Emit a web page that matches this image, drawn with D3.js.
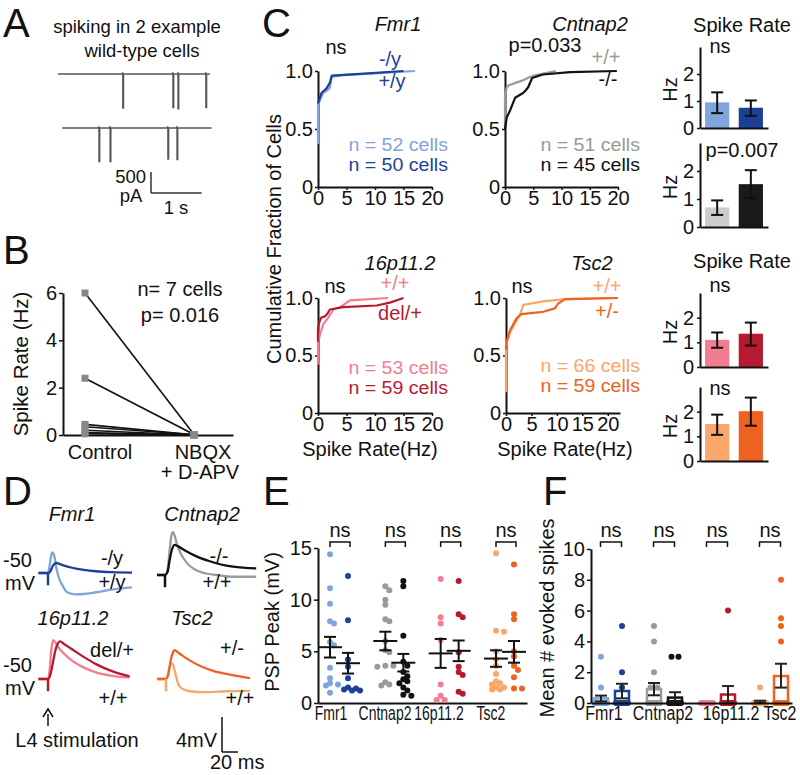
<!DOCTYPE html>
<html><head><meta charset="utf-8">
<script src="https://cdn.jsdelivr.net/npm/d3@7"></script>
<style>body{margin:0;background:#fff}</style>
</head><body>
<svg id="c" width="800" height="775"></svg>
<script>
// ---------------- DATA ----------------
// Panel A: spontaneous spiking traces (time in s, amplitude in pA)
const aTraceSpan = [[0, 3.0], [0.08, 3.03]];
const aSpikeTimes = [[1.28, 2.27, 2.37, 2.92], [0.81, 1.03, 2.17, 2.35]];
const aSpikeAmps = [[810, 800, 830, 800], [800, 800, 740, 750]];
// Panel B
const bConditions = ["Control", "NBQX"];
const bControl = [6.0, 2.4, 0.45, 0.35, 0.2, 0.1, 0.05];
const bDrug = [0.02, 0.02, 0.01, 0.01, 0.0, 0.0, 0.0];
const bTicks = [0, 2, 4, 6];
// Panel C: cumulative distributions [rate Hz, fraction]
const cdfFmr1WT = [[0,0.37],[0,0.71],[0.35,0.75],[0.9,0.81],[1.8,0.84],[2.1,0.86],[2.4,0.95],[4.4,0.965],[10,0.98],[17,1.0]];
const cdfFmr1KO = [[0,0.72],[0.6,0.81],[1.5,0.85],[2.1,0.9],[2.4,0.96],[7.4,0.975],[15,1.0]];
const cdfCntWT = [[0,0.55],[0,0.78],[0.3,0.86],[0.8,0.88],[2,0.9],[3.2,0.92],[4.5,0.95],[5.5,0.965],[9,1.0]];
const cdfCntKO = [[0,0.5],[0.3,0.6],[0.9,0.66],[1.8,0.77],[3.2,0.81],[3.6,0.83],[4.1,0.86],[4.8,0.94],[6.7,0.97],[11.5,0.99],[19.8,1.0]];
const cdf16WT = [[0,0.42],[0,0.62],[0.35,0.68],[0.9,0.77],[1.8,0.83],[2.7,0.9],[3.9,0.92],[5.6,0.98],[12.3,1.0]];
const cdf16KO = [[0,0.62],[0,0.74],[0.3,0.8],[0.6,0.83],[1.2,0.84],[1.6,0.86],[2.1,0.9],[4.4,0.92],[10.3,0.935],[12.6,0.96],[15,1.0]];
const cdfTscWT = [[0,0.18],[0,0.59],[0.8,0.7],[1.8,0.78],[2.7,0.85],[3.4,0.94],[7.3,0.97],[11.6,0.99],[22,1.0]];
const cdfTscKO = [[0,0.55],[0.1,0.62],[0.8,0.72],[2,0.82],[3,0.86],[7.3,0.88],[9.6,0.91],[10.2,0.95],[11.6,0.99],[22,1.0]];
const cdfXTicks = [0, 5, 10, 15, 20];
const cdfYTicks = [0, 0.5, 1];
const cdfYLabels = ["0", "0.5", "1.0"];
const cdfN = [[52, 50], [51, 45], [53, 59], [66, 59]];
// Spike-rate bars: mean, sem low, sem high  [WT, mutant]
const rateFmr1 = [0.95, 0.75], rateFmr1Lo = [0.55, 0.45], rateFmr1Hi = [1.32, 1.02];
const rateCnt = [0.7, 1.53], rateCntLo = [0.43, 1.03], rateCntHi = [0.95, 2.03];
const rate16 = [1.1, 1.35], rate16Lo = [0.78, 0.87], rate16Hi = [1.4, 1.8];
const rateTsc = [1.5, 2.02], rateTscLo = [1.06, 1.43], rateTscHi = [1.88, 2.57];
const barTicks = [0, 1, 2];
// Panel D: PSP traces [ms from stimulus, mV relative to -50 mV]
const dFmr1WT = [[-12,0],[0,0],[2,0.8],[4,2.0],[5.5,2.35],[8,1.9],[10,0.8],[13,-0.4],[18,-1.4],[24,-2.2],[35,-2.45],[45,-2.4],[60,-2.2],[80,-1.9],[105,-1.65]];
const dFmr1KO = [[-12,0],[0,0],[3,0.2],[6,0.8],[9,1.1],[11,1.15],[14,1.05],[20,0.85],[30,0.6],[45,0.35],[60,0.2],[80,0.1],[105,0.05]];
const dCntWT = [[-10,0],[0,0],[3,0.5],[6,3.0],[8,4.5],[10,4.9],[12,4.5],[15,3.5],[20,2.4],[28,1.3],[38,0.6],[50,0.2],[65,0],[85,-0.2],[114,-0.2]];
const dCntKO = [[-10,0],[0,0],[3,0.3],[6,1.8],[9,3.0],[12,3.45],[16,3.3],[25,2.8],[40,2.1],[55,1.6],[70,1.2],[85,0.95],[114,0.75]];
const d16WT = [[-12,0],[0,0],[2,1.0],[4,3.2],[6.5,4.45],[9,4.2],[13,3.6],[20,2.9],[30,2.1],[45,1.3],[60,0.75],[80,0.35],[102,0.15]];
const d16KO = [[-12,0],[0,0],[3,0.5],[6,1.8],[9,3.2],[12,4.0],[15,4.3],[20,4.0],[30,3.4],[45,2.5],[60,1.7],[80,0.9],[102,0.3]];
const dTscWT = [[-11,0],[0,0],[2,0.3],[4,1.2],[7,1.85],[9,1.6],[12,0.5],[15,-0.5],[20,-1.1],[30,-1.4],[50,-1.5],[75,-1.4],[105,-1.35]];
const dTscKO = [[-11,0],[0,0],[3,0.6],[6,2.2],[9,3.1],[11,3.3],[14,3.1],[20,2.7],[30,2.1],[45,1.4],[60,0.9],[80,0.5],[105,0.1]];
const dStimArtifact = -1.4;
// Panel E: PSP peak (mV) per cell
const groups = ["Fmr1", "Cntnap2", "16p11.2", "Tsc2"];
const eFmr1WT = [14.4, 11.1, 9.6, 7.9, 7.7, 5.9, 5.6, 3.4, 2.4, 1.9, 1.8, 1.7, 1.0];
const eFmr1KO = [12.3, 8.0, 4.2, 3.5, 2.4, 1.5, 1.4, 1.3, 1.2, 1.2];
const eCntWT = [11.3, 10.9, 10.0, 9.5, 8.1, 7.9, 6.0, 5.1, 4.9, 3.6, 3.6, 3.5, 2.0, 1.8, 1.7];
const eCntKO = [11.8, 11.3, 6.5, 4.0, 3.6, 3.0, 2.6, 2.3, 2.1, 1.9, 1.5, 1.2, 0.8, 0.7];
const e16WT = [12.0, 8.3, 7.7, 6.1, 1.8, 0.7, 0.3, 0.3];
const e16KO = [11.8, 8.6, 8.3, 4.9, 3.5, 3.0, 2.7, 1.1, 0.9];
const eTscWT = [14.5, 7.0, 6.9, 5.0, 4.2, 3.6, 2.8, 2.1, 1.9, 1.8, 1.5, 1.5, 1.3, 1.3];
const eTscKO = [13.4, 8.6, 8.1, 5.0, 4.5, 3.6, 3.2, 2.5, 1.4, 1.4];
const eMeanWT = [5.4, 6.0, 4.8, 4.3], eSemWT = [1.0, 0.9, 1.4, 0.8];
const eMeanKO = [3.85, 3.9, 5.05, 4.95], eSemKO = [1.0, 0.85, 1.0, 1.05];
const eTicks = [0, 5, 10, 15];
// Panel F: mean # evoked spikes per cell
const fFmr1WT = [3, 1, 0,0,0,0,0,0,0,0,0,0,0];
const fFmr1KO = [5, 2, 1, 0,0,0,0,0,0,0];
const fCntWT = [5, 4, 2, 1, 1, 0,0,0,0,0,0,0,0,0,0];
const fCntKO = [3, 3, 0,0,0,0,0,0,0,0,0,0,0,0];
const f16WT = [0,0,0,0,0,0,0,0];
const f16KO = [6, 0,0,0,0,0,0,0,0];
const fTscWT = [1, 0,0,0,0,0,0,0,0,0,0,0,0,0];
const fTscKO = [8, 5.5, 5, 4, 0,0,0,0,0,0];
const fMeanWT = [0.3, 0.9, 0.05, 0.08], fLoWT = [0.1, 0.5, 0.05, 0.0], fHiWT = [0.48, 1.3, 0.05, 0.15];
const fMeanKO = [0.78, 0.35, 0.55, 1.75], fLoKO = [0.3, 0.05, 0.0, 1.0], fHiKO = [1.25, 0.7, 1.1, 2.55];
const fTicks = [0, 2, 4, 6, 8, 10];

// colours
const COL = {
  fmrWT: "#7fa5dc", fmrKO: "#1c3f98",
  cntWT: "#9a9a9a", cntKO: "#111111", cntBarWT: "#cccccc", cntBarKO: "#1a1a1a",
  p16WT: "#f07e90", p16KO: "#b51a30",
  tscWT: "#f8a66a", tscKO: "#ee6221"
};

// ---------------- HELPERS ----------------
const FONT = '"Liberation Sans", Arial, Helvetica, sans-serif';
const svg = d3.select("#c").attr("font-family", FONT);
const intFmt = d3.format("d");

function T(x, y, s, o = {}) {
  const t = svg.append("text").text(s)
    .attr("font-size", o.size || 20)
    .attr("text-anchor", o.anchor || "middle")
    .attr("fill", o.fill || "#111");
  if (o.italic) t.attr("font-style", "italic");
  if (o.rotate) t.attr("transform", `translate(${x},${y}) rotate(-90)`);
  else if (o.sx) t.attr("transform", `translate(${x},${y}) scale(${o.sx},1)`);
  else t.attr("x", x).attr("y", y);
  return t;
}
function drawAxis(axis, tr, fs = 20) {
  const g = svg.append("g").attr("transform", tr).call(axis);
  g.attr("font-family", FONT).attr("font-size", fs);
  g.select(".domain").attr("stroke", "#111").attr("stroke-width", 2);
  g.selectAll(".tick line").attr("stroke", "#111").attr("stroke-width", 1.5);
  g.selectAll(".tick text").attr("fill", "#111");
  return g;
}
function seg(x1, y1, x2, y2, c = "#111", w = 2) {
  svg.append("line").attr("x1", x1).attr("y1", y1).attr("x2", x2).attr("y2", y2)
    .attr("stroke", c).attr("stroke-width", w);
}

// ---------------- PANEL A ----------------
T(3, 37, "A", { size: 40, anchor: "start" });
T(137, 33, "spiking in 2 example", { size: 18.5 });
T(142, 57, "wild-type cells", { size: 18.5 });
const aX = d3.scaleLinear().domain([0, 3]).range([58, 210]);
const aBase = [74, 128];
const aAmp = d3.scaleLinear().domain([0, 500]).range([0, 21]);
aTraceSpan.forEach((span, k) => {
  const pts = [[span[0], 0]];
  aSpikeTimes[k].forEach((t, j) => {
    pts.push([t - 0.01, 0], [t - 0.005, -40], [t, 0], [t, aSpikeAmps[k][j]], [t + 0.012, aSpikeAmps[k][j]], [t + 0.012, 0]);
  });
  pts.push([span[1], 0]);
  const line = d3.line().x(d => aX(d[0])).y(d => aBase[k] + aAmp(d[1]));
  svg.append("path").attr("d", line(pts)).attr("fill", "none")
    .attr("stroke", "#555").attr("stroke-width", 1.5);
});
const sbX = 151, sbY = 193;
seg(sbX, sbY - aAmp(500), sbX, sbY, "#333", 1.5);
seg(sbX, sbY, sbX + aX(1) - aX(0), sbY, "#333", 1.5);
T(146, 183, "500", { size: 18.5, anchor: "end" });
T(131, 202, "pA", { size: 18.5 });
T(176, 214, "1 s", { size: 18.5 });

// ---------------- PANEL B ----------------
T(3, 264, "B", { size: 40, anchor: "start" });
const bY = d3.scaleLinear().domain([0, 6]).range([435, 293]);
const bXl = d3.scaleLinear().domain([0, 1]).range([63, 233]);
const bX = d3.scalePoint().domain(bConditions).range([85, 194]);
drawAxis(d3.axisLeft(bY).tickValues(bTicks).tickFormat(intFmt).tickSize(4).tickPadding(2).tickSizeOuter(0), "translate(63,0)");
drawAxis(d3.axisBottom(bXl).tickValues([]).tickSizeOuter(0), "translate(0,435)");
bControl.forEach((v, i) => {
  seg(bX("Control"), bY(v), bX("NBQX"), bY(bDrug[i]), "#111", 1.6);
});
bControl.forEach((v, i) => {
  svg.append("rect").attr("x", bX("Control") - 3.5).attr("y", bY(v) - 3.5).attr("width", 7).attr("height", 7).attr("fill", "#888");
  svg.append("rect").attr("x", bX("NBQX") - 3.5).attr("y", bY(bDrug[i]) - 3.5).attr("width", 7).attr("height", 7).attr("fill", "#888");
});
T(28, 364, "Spike Rate (Hz)", { size: 20.5, rotate: true });
T(180, 296, "n= 7 cells", { size: 20 });
T(180, 322, "p= 0.016", { size: 20 });
T(100, 459, "Control", { size: 20 });
T(203, 459, "NBQX", { size: 20 });
T(200, 479, "+ D-APV", { size: 20 });

// ---------------- PANEL C ----------------
T(262, 37, "C", { size: 40, anchor: "start" });
function cdfPanel(p) {
  const x = d3.scaleLinear().domain([0, p.xMax]).range([p.x0, p.x1]);
  const y = d3.scaleLinear().domain([0, 1]).range([p.yB, p.yT]);
  drawAxis(d3.axisBottom(x).tickValues(cdfXTicks).tickFormat(intFmt).tickSize(3).tickPadding(1).tickSizeOuter(0), `translate(0,${p.yB})`);
  drawAxis(d3.axisLeft(y).tickValues(cdfYTicks).tickFormat((d, i) => cdfYLabels[i]).tickSize(3).tickPadding(2).tickSizeOuter(0), `translate(${p.x0},0)`);
  const line = d3.line().x(d => x(d[0])).y(d => y(d[1]));
  p.series.forEach(s => svg.append("path").attr("d", line(s.data)).attr("fill", "none")
    .attr("stroke", s.color).attr("stroke-width", 2.2).attr("stroke-linejoin", "round"));
}
cdfPanel({ x0: 318, x1: 432, xMax: 20, yT: 71, yB: 187, series: [{ data: cdfFmr1WT, color: COL.fmrWT }, { data: cdfFmr1KO, color: COL.fmrKO }] });
cdfPanel({ x0: 505, x1: 618, xMax: 20, yT: 71, yB: 187, series: [{ data: cdfCntWT, color: COL.cntWT }, { data: cdfCntKO, color: COL.cntKO }] });
cdfPanel({ x0: 318, x1: 432, xMax: 20, yT: 298, yB: 413, series: [{ data: cdf16WT, color: COL.p16WT }, { data: cdf16KO, color: COL.p16KO }] });
cdfPanel({ x0: 506, x1: 620, xMax: 22.4, yT: 298, yB: 413, series: [{ data: cdfTscWT, color: COL.tscWT }, { data: cdfTscKO, color: COL.tscKO }] });

const nOpt = (c) => ({ anchor: "end", size: 17.5, sx: 1.12, fill: c });
T(398, 31, "Fmr1", { italic: true });
T(336, 54, "ns");
T(390, 66, "-/y", { fill: COL.fmrKO });
T(392, 88, "+/y", { fill: COL.fmrKO });
T(448, 151, `n = ${cdfN[0][0]} cells`, nOpt(COL.fmrWT));
T(448, 171, `n = ${cdfN[0][1]} cells`, nOpt(COL.fmrKO));

T(590, 31, "Cntnap2", { italic: true });
T(545, 52, "p=0.033");
T(606, 64, "+/+", { fill: COL.cntWT });
T(608, 86, "-/-", { fill: COL.cntKO });
T(640, 151, `n = ${cdfN[1][0]} cells`, nOpt(COL.cntWT));
T(640, 171, `n = ${cdfN[1][1]} cells`, nOpt(COL.cntKO));

T(400, 270, "16p11.2", { italic: true });
T(335, 293, "ns");
T(395, 290, "+/+", { fill: COL.p16WT });
T(400, 320, "del/+", { fill: COL.p16KO });
T(448, 374, `n = ${cdfN[2][0]} cells`, nOpt(COL.p16WT));
T(448, 394, `n = ${cdfN[2][1]} cells`, nOpt(COL.p16KO));

T(592, 270, "Tsc2", { italic: true });
T(522, 293, "ns");
T(607, 293, "+/+", { fill: COL.tscWT });
T(607, 318, "+/-", { fill: COL.tscKO });
T(640, 372, `n = ${cdfN[3][0]} cells`, nOpt(COL.tscWT));
T(640, 392, `n = ${cdfN[3][1]} cells`, nOpt(COL.tscKO));

T(281, 239, "Cumulative Fraction of Cells", { rotate: true });
T(370, 456, "Spike Rate(Hz)");
T(565, 456, "Spike Rate(Hz)");

function barPanel(p) {
  const x = d3.scaleBand().domain([0, 1]).range([700, 768]).paddingInner(0.28).paddingOuter(0.15);
  const y = d3.scaleLinear().domain([0, 3]).range([p.yB, p.yT]);
  p.vals.forEach((v, i) => {
    svg.append("rect").attr("x", x(i)).attr("y", y(v)).attr("width", x.bandwidth())
      .attr("height", y(0) - y(v)).attr("fill", p.colors[i]);
  });
  p.vals.forEach((v, i) => {
    const cx = x(i) + x.bandwidth() / 2;
    seg(cx, y(p.lo[i]), cx, y(p.hi[i]));
    seg(cx - 6, y(p.lo[i]), cx + 6, y(p.lo[i]));
    seg(cx - 6, y(p.hi[i]), cx + 6, y(p.hi[i]));
  });
  drawAxis(d3.axisLeft(y).tickValues(barTicks).tickFormat(intFmt).tickSize(3).tickPadding(3).tickSizeOuter(0), "translate(700,0)");
  const xl = d3.scaleLinear().domain([0, 1]).range([700, 768]);
  drawAxis(d3.axisBottom(xl).tickValues([]).tickSizeOuter(0), `translate(0,${p.yB})`);
  T(677, (p.yB + p.yT) / 2 + 2, "Hz", { rotate: true });
}
barPanel({ yB: 128, yT: 47, vals: rateFmr1, lo: rateFmr1Lo, hi: rateFmr1Hi, colors: [COL.fmrWT, COL.fmrKO] });
barPanel({ yB: 227, yT: 143, vals: rateCnt, lo: rateCntLo, hi: rateCntHi, colors: [COL.cntBarWT, COL.cntBarKO] });
barPanel({ yB: 367, yT: 293, vals: rate16, lo: rate16Lo, hi: rate16Hi, colors: [COL.p16WT, COL.p16KO] });
barPanel({ yB: 461, yT: 387, vals: rateTsc, lo: rateTscLo, hi: rateTscHi, colors: [COL.tscWT, COL.tscKO] });
T(742, 32, "Spike Rate");
T(720, 53, "ns");
T(742, 157, "p=0.007");
T(742, 268, "Spike Rate");
T(720, 292, "ns");
T(720, 395, "ns");

// ---------------- PANEL D ----------------
T(3, 505, "D", { size: 40, anchor: "start" });
function tracePanel(p) {
  const x = d3.scaleLinear().domain([0, 20]).range([p.stimX, p.stimX + 16]);
  const y = d3.scaleLinear().domain([0, 4]).range([p.baseY, p.baseY - 35]);
  const line = d3.line().x(d => x(d[0])).y(d => y(d[1])).curve(d3.curveMonotoneX);
  p.series.forEach(s => svg.append("path").attr("d", line(s.data)).attr("fill", "none")
    .attr("stroke", s.color).attr("stroke-width", 2.3));
  seg(x(0), y(0), x(0), y(dStimArtifact), p.artColor, 2.5);
  return { x, y };
}
tracePanel({ stimX: 48, baseY: 573, artColor: COL.fmrKO, series: [{ data: dFmr1WT, color: COL.fmrWT }, { data: dFmr1KO, color: COL.fmrKO }] });
tracePanel({ stimX: 165, baseY: 575, artColor: COL.cntKO, series: [{ data: dCntWT, color: COL.cntWT }, { data: dCntKO, color: COL.cntKO }] });
tracePanel({ stimX: 48, baseY: 679, artColor: COL.p16KO, series: [{ data: d16WT, color: COL.p16WT }, { data: d16KO, color: COL.p16KO }] });
const dSc = tracePanel({ stimX: 166, baseY: 679, artColor: COL.tscWT, series: [{ data: dTscWT, color: COL.tscWT }, { data: dTscKO, color: COL.tscKO }] });
T(72, 521, "Fmr1", { italic: true });
T(202, 521, "Cntnap2", { italic: true });
T(73, 625, "16p11.2", { italic: true });
T(192, 625, "Tsc2", { italic: true });
T(3, 567, "-50", { anchor: "start" });
T(5, 590, "mV", { anchor: "start" });
T(3, 672, "-50", { anchor: "start" });
T(5, 695, "mV", { anchor: "start" });
T(112, 565, "-/y");
T(112, 589, "+/y");
T(219, 563, "-/-");
T(217, 589, "+/+");
T(112, 657, "del/+");
T(113, 705, "+/+");
T(232, 655, "+/-");
T(240, 705, "+/+");
seg(48, 726, 48, 714, "#111", 1.5);
svg.append("path").attr("d", "M43,717 L48,709 L53,717").attr("fill", "none").attr("stroke", "#111").attr("stroke-width", 1.5);
T(77, 747, "L4 stimulation");
const sbDx = dSc.x(20) - dSc.x(0), sbDy = dSc.y(0) - dSc.y(4);
seg(222, 752 - sbDy, 222, 752, "#111", 1.5);
seg(222, 752, 222 + sbDx, 752, "#111", 1.5);
T(217, 747, "4mV", { anchor: "end" });
T(210, 769, "20 ms", { anchor: "start" });

// ---------------- PANEL E ----------------
T(263, 505, "E", { size: 40, anchor: "start" });
const yE = d3.scaleLinear().domain([0, 15]).range([703, 548]);
const xE = d3.scalePoint().domain(groups).range([339, 505]);
const eSeries = [[eFmr1WT, eFmr1KO], [eCntWT, eCntKO], [e16WT, e16KO], [eTscWT, eTscKO]];
const eCols = [[COL.fmrWT, COL.fmrKO], [COL.cntWT, COL.cntKO], [COL.p16WT, COL.p16KO], [COL.tscWT, COL.tscKO]];
function swarm(values, yS, r, step) {
  const placed = [], out = new Array(values.length);
  const order = values.map((v, i) => [v, i]).sort((a, b) => b[0] - a[0]);
  order.forEach(([v, i]) => {
    const yy = yS(v);
    const cands = [0, step, -step, 2 * step, -2 * step, 3 * step, -3 * step];
    let off = 0;
    for (const c of cands) {
      if (placed.every(p => Math.hypot(p.x - c, p.y - yy) >= 2 * r - 1.5)) { off = c; break; }
    }
    placed.push({ x: off, y: yy });
    out[i] = off;
  });
  return out;
}
drawAxis(d3.axisLeft(yE).tickValues(eTicks).tickFormat(intFmt).tickSize(4).tickPadding(2).tickSizeOuter(0), "translate(318,0)");
drawAxis(d3.axisBottom(d3.scaleLinear().domain([0, 1]).range([318, 527])).tickValues([]).tickSizeOuter(0), "translate(0,703)");
groups.forEach((g, gi) => {
  [0, 1].forEach(k => {
    const cx = xE(g) + (k === 0 ? -9 : 9);
    const vals = eSeries[gi][k];
    const offs = swarm(vals, yE, 3, 4);
    vals.forEach((v, i) => svg.append("circle").attr("cx", cx + offs[i]).attr("cy", yE(v)).attr("r", 3).attr("fill", eCols[gi][k]));
    const m = k === 0 ? eMeanWT[gi] : eMeanKO[gi];
    const s = k === 0 ? eSemWT[gi] : eSemKO[gi];
    seg(cx - 12, yE(m), cx + 12, yE(m));
    seg(cx, yE(m - s), cx, yE(m + s));
    seg(cx - 6, yE(m - s), cx + 6, yE(m - s));
    seg(cx - 6, yE(m + s), cx + 6, yE(m + s));
  });
  const a = xE(g) - 9, b = xE(g) + 11;
  svg.append("path").attr("d", `M${a},547 V542 H${b} V547`).attr("fill", "none").attr("stroke", "#111").attr("stroke-width", 1.5);
  T((a + b) / 2, 537, "ns");
});
const eLabX = [331, 385, 439, 491];
groups.forEach((g, i) => T(eLabX[i], 720, g, { size: 20, sx: 0.7 }));
T(279, 622, "PSP Peak (mV)", { rotate: true });

// ---------------- PANEL F ----------------
T(543, 505, "F", { size: 40, anchor: "start" });
const yF = d3.scaleLinear().domain([0, 10]).range([703, 549]);
const xF = d3.scalePoint().domain(groups).range([611.5, 770.5]);
const fSeries = [[fFmr1WT, fFmr1KO], [fCntWT, fCntKO], [f16WT, f16KO], [fTscWT, fTscKO]];
const fMeans = [fMeanWT, fMeanKO], fLos = [fLoWT, fLoKO], fHis = [fHiWT, fHiKO];
groups.forEach((g, gi) => {
  [0, 1].forEach(k => {
    const cx = xF(g) + (k === 0 ? -10.5 : 10.5);
    const m = fMeans[k][gi];
    svg.append("rect").attr("x", cx - 7).attr("y", yF(m)).attr("width", 14).attr("height", Math.max(0.5, yF(0) - yF(m)))
      .attr("fill", "#fff").attr("stroke", eCols[gi][k]).attr("stroke-width", 2.5);
    const vals = fSeries[gi][k];
    const byVal = d3.group(vals, v => v);
    byVal.forEach((arr, v) => {
      const n = arr.length;
      const s = n === 1 ? 0 : (n === 2 ? 3.5 : 6);
      arr.forEach((_, j) => {
        const off = n === 1 ? 0 : -s + 2 * s * j / (n - 1);
        svg.append("circle").attr("cx", cx + off).attr("cy", yF(v)).attr("r", 3).attr("fill", eCols[gi][k]);
      });
    });
    if (fHis[k][gi] - fLos[k][gi] > 0.02) {
      seg(cx, yF(fLos[k][gi]), cx, yF(fHis[k][gi]), "#222", 2);
      seg(cx - 6, yF(fLos[k][gi]), cx + 6, yF(fLos[k][gi]), "#222", 2);
      seg(cx - 6, yF(fHis[k][gi]), cx + 6, yF(fHis[k][gi]), "#222", 2);
    }
  });
  const a = xF(g) - 11, b = xF(g) + 10;
  svg.append("path").attr("d", `M${a},547 V542 H${b} V547`).attr("fill", "none").attr("stroke", "#111").attr("stroke-width", 1.5);
  T((a + b) / 2, 537, "ns");
});
drawAxis(d3.axisLeft(yF).tickValues(fTicks).tickFormat(intFmt).tickSize(4).tickPadding(2).tickSizeOuter(0), "translate(591,0)");
drawAxis(d3.axisBottom(d3.scaleLinear().domain([0, 1]).range([591, 792])).tickValues([]).tickSizeOuter(0), "translate(0,703)");
const fLabX = [604, 663, 731, 780];
groups.forEach((g, i) => T(fLabX[i], 720, g, { size: 20, sx: 0.8 }));
T(554, 618, "Mean # evoked spikes", { rotate: true });
</script>
</body></html>
